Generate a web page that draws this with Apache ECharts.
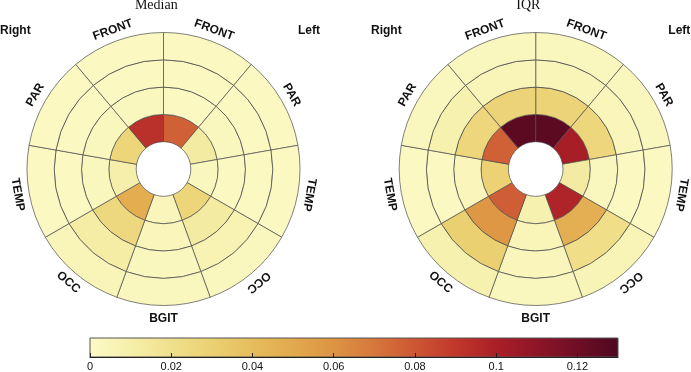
<!DOCTYPE html>
<html><head><meta charset="utf-8">
<script src="https://cdn.jsdelivr.net/npm/echarts@6/dist/echarts.min.js"></script>
<style>html,body{margin:0;padding:0;background:#fff}#c{width:691px;height:372px}</style>
</head><body><div id="c"></div>
<script>
// Sectors, clockwise from the top (40 degrees each)
const sectorNames = ['FRONT','PAR','TEMP','OCC','BGIT','OCC','TEMP','PAR','FRONT'];
// Rows: ring 1 (innermost) .. ring 4 (outermost); columns follow sectorNames
const medianValues = [
  [0.077, 0.013, 0.003, 0.027, 0.004, 0.048, 0.010, 0.027, 0.093],
  [0.002, 0.003, 0.002, 0.013, 0.004, 0.025, 0.003, 0.003, 0.003],
  [0.002, 0.002, 0.002, 0.007, 0.003, 0.012, 0.002, 0.002, 0.002],
  [0.002, 0.002, 0.002, 0.003, 0.003, 0.005, 0.002, 0.002, 0.002]
];
const iqrValues = [
  [0.126, 0.101, 0.013, 0.098, 0.008, 0.078, 0.029, 0.077, 0.126],
  [0.028, 0.026, 0.003, 0.047, 0.005, 0.058, 0.004, 0.026, 0.028],
  [0.005, 0.004, 0.002, 0.021, 0.004, 0.030, 0.002, 0.008, 0.005],
  [0.003, 0.003, 0.002, 0.006, 0.003, 0.008, 0.002, 0.003, 0.003]
];
const panelTitles = ['Median', 'IQR'];
const sideLabels = ['Right', 'Left'];
const colorbarMin = 0, colorbarMax = 0.13, colorbarStep = 0.02;
const colormap = ['#fcfbc6','#f6efab','#f0e08c','#ebd072','#e6bd5c','#e2a94d','#dd9443',
                  '#d6773b','#cd5633','#c1372c','#aa1f27','#8e1527','#6e0e25','#4e0820'];

const chart = echarts.init(document.getElementById('c'), null, {renderer: 'canvas'});
const centers = [[163.5, 169], [535.7, 169]];
const R = 136.5;
const SECT = 360 / sectorNames.length;

function cellData(vals) {
  const out = [];
  vals.forEach((row, ri) => row.forEach((v, si) => out.push([si, ri, v])));
  return out;
}
function renderCell(params, api) {
  const cs = params.coordSys, cx = cs.cx, cy = cs.cy;
  const s = api.value(0), r = api.value(1);
  const pIn = api.coord([r + 1, s * SECT]);
  const pOut = api.coord([r + 2, s * SECT]);
  const pEnd = api.coord([r + 2, (s + 1) * SECT]);
  const r0 = Math.hypot(pIn[0] - cx, pIn[1] - cy);
  const r1 = Math.hypot(pOut[0] - cx, pOut[1] - cy);
  const a0 = Math.atan2(pOut[1] - cy, pOut[0] - cx);
  let a1 = Math.atan2(pEnd[1] - cy, pEnd[0] - cx);
  while (a1 <= a0) a1 += 2 * Math.PI;
  return {type: 'sector',
    shape: {cx: cx, cy: cy, r0: r0, r: r1, startAngle: a0, endAngle: a1, clockwise: true},
    style: {fill: api.visual('color'), stroke: '#4a4a4a', lineWidth: 0.7}};
}
function labelRot(mid) {
  if (mid === 180) return 0;
  if (mid < 180) return mid;
  return (mid - 180 <= 90) ? mid - 180 : mid - 360;
}
function renderLabel(params, api) {
  const cs = params.coordSys, cx = cs.cx, cy = cs.cy;
  const i = api.value(0);
  const mid = i * SECT + SECT / 2;
  const p = api.coord([5, mid]);
  const dx = p[0] - cx, dy = p[1] - cy, d = Math.hypot(dx, dy);
  const off = (mid === 180) ? 13 : 11.5;
  return {type: 'text', x: cx + dx / d * (d + off), y: cy + dy / d * (d + off),
    rotation: -labelRot(mid) * Math.PI / 180,
    style: {text: sectorNames[i], font: 'bold 12px "Liberation Sans", Arial, sans-serif',
      fill: '#111', align: 'center', verticalAlign: 'middle'}};
}

const series = [];
[medianValues, iqrValues].forEach((vals, k) => {
  series.push({type: 'custom', coordinateSystem: 'polar', polarIndex: k,
    data: cellData(vals), renderItem: renderCell, encode: {angle: 0, radius: 1}, silent: true});
});
[0, 1].forEach(k => {
  series.push({type: 'custom', coordinateSystem: 'polar', polarIndex: k,
    data: sectorNames.map((n, i) => [i, 5]), renderItem: renderLabel, encode: {angle: 0, radius: 1}, silent: true});
});
series.push({type: 'custom', coordinateSystem: 'cartesian2d', xAxisIndex: 0, yAxisIndex: 0, z: 1,
  data: [[colorbarMin, 0]], silent: true,
  renderItem: function (params, api) {
    const p0 = api.coord([colorbarMin, 1]), p1 = api.coord([colorbarMax, 0]);
    const stops = colormap.map((c, i) => ({offset: i / (colormap.length - 1), color: c}));
    return {type: 'rect', shape: {x: p0[0], y: p0[1], width: p1[0] - p0[0], height: p1[1] - p0[1]},
      style: {fill: new echarts.graphic.LinearGradient(0, 0, 1, 0, stops), stroke: '#555', lineWidth: 1}};
  }});

const graphic = [];
const titleX = [156.3, 528.3];
panelTitles.forEach((t, k) => graphic.push({type: 'text', x: titleX[k], y: 5,
  style: {text: t, font: '14px "Liberation Serif", "Times New Roman", serif', fill: '#111', align: 'center', verticalAlign: 'middle'}}));
const sideX = [[0, 298], [371, 668.3]];
[0, 1].forEach(k => sideLabels.forEach((t, j) => graphic.push({type: 'text', x: sideX[k][j], y: 31,
  style: {text: t, font: 'bold 12px "Liberation Sans", Arial, sans-serif', fill: '#111', align: 'left', verticalAlign: 'middle'}})));

chart.setOption({
  animation: false,
  backgroundColor: '#fff',
  polar: centers.map(c => ({center: c, radius: [0, R]})),
  angleAxis: [0, 1].map(k => ({polarIndex: k, type: 'value', min: 0, max: 360, startAngle: 90, clockwise: true, show: false})),
  radiusAxis: [0, 1].map(k => ({polarIndex: k, type: 'value', min: 0, max: 5, show: false})),
  grid: {left: 90, top: 338, width: 528, height: 20},
  xAxis: {type: 'value', min: colorbarMin, max: colorbarMax, interval: colorbarStep, z: 10,
    axisLine: {show: true, lineStyle: {color: '#222', width: 1}},
    axisTick: {show: true, inside: true, length: 4, lineStyle: {color: '#222'}},
    axisLabel: {margin: 4, fontSize: 11, color: '#111', fontFamily: '"Liberation Sans", Arial, sans-serif', showMaxLabel: false},
    splitLine: {show: false}},
  yAxis: {type: 'value', min: 0, max: 1, show: false},
  visualMap: {type: 'continuous', show: false, min: colorbarMin, max: colorbarMax, dimension: 2,
    seriesIndex: [0, 1], inRange: {color: colormap}},
  graphic: graphic,
  series: series
});
</script></body></html>
